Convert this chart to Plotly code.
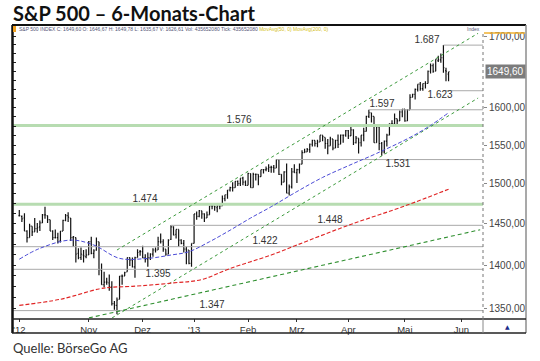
import numpy as np
import pandas as pd
import plotly.graph_objects as go

# ---------------- data ----------------
holidays = ["2012-10-29", "2012-10-30", "2012-11-22", "2012-12-25", "2013-01-01",
            "2013-01-21", "2013-02-18", "2013-03-29", "2013-05-27"]
trade_days = pd.bdate_range("2012-09-21", "2013-06-03", freq="C", holidays=holidays)

opens = [1460, 1459, 1457, 1441, 1433, 1447,
         1440, 1444, 1446, 1451, 1461, 1460, 1455, 1441, 1433, 1433, 1429, 1441, 1454, 1460, 1457,
         1433, 1433, 1414, 1409, 1412, 1410,
         1412, 1428, 1414, 1418, 1428, 1394, 1377, 1380, 1379, 1374, 1355, 1353,
         1360, 1387, 1387, 1392, 1409, 1406, 1398, 1409, 1416,
         1416, 1409, 1407, 1409, 1413, 1418, 1418, 1428, 1428, 1419, 1413, 1431, 1446, 1437, 1443,
         1430, 1426, 1419, 1418, 1402,
         1426, 1462, 1459, 1466, 1462, 1457, 1461, 1472, 1472, 1470, 1472, 1472, 1481,
         1486, 1492, 1495, 1495, 1503, 1500, 1507, 1502,
         1498, 1513, 1495, 1512, 1512, 1509, 1518, 1518, 1519, 1521, 1521, 1520, 1531, 1512, 1502,
         1515, 1488, 1496, 1515,
         1514, 1518, 1525, 1540, 1541, 1544, 1551, 1556, 1552, 1554, 1563, 1560, 1552, 1549, 1558,
         1546, 1556, 1551, 1563, 1563,
         1569, 1562, 1570, 1553, 1559, 1553, 1563, 1568, 1588, 1593, 1588, 1553, 1574, 1552, 1541,
         1555, 1563, 1578, 1578, 1585, 1582, 1594,
         1598, 1582, 1597, 1614, 1618, 1625, 1632, 1626, 1633, 1633, 1650, 1658, 1650, 1665, 1666,
         1669, 1651, 1646]
highs = [1467, 1460, 1463, 1442, 1450, 1447,
         1457, 1451, 1454, 1462, 1471, 1460, 1455, 1442, 1443, 1439, 1441, 1455, 1462, 1464, 1457,
         1435, 1433, 1420, 1421, 1418, 1419,
         1429, 1434, 1419, 1433, 1428, 1402, 1392, 1385, 1389, 1381, 1358, 1362,
         1387, 1389, 1392, 1409, 1409, 1409, 1410, 1419, 1418,
         1423, 1413, 1415, 1414, 1420, 1421, 1434, 1438, 1431, 1419, 1431, 1448, 1447, 1443, 1443,
         1431, 1430, 1422, 1418, 1426,
         1462, 1465, 1467, 1466, 1463, 1465, 1472, 1473, 1472, 1473, 1473, 1485, 1486,
         1492, 1496, 1502, 1503, 1504, 1507, 1509, 1504,
         1514, 1513, 1514, 1513, 1512, 1518, 1518, 1522, 1525, 1523, 1524, 1531, 1531, 1512, 1516,
         1526, 1499, 1520, 1525,
         1519, 1526, 1543, 1545, 1546, 1552, 1557, 1556, 1557, 1563, 1563, 1560, 1558, 1561, 1558,
         1557, 1564, 1564, 1564, 1570,
         1570, 1574, 1571, 1562, 1559, 1563, 1573, 1589, 1597, 1593, 1588, 1575, 1574, 1554, 1556,
         1565, 1579, 1583, 1592, 1585, 1596, 1598,
         1598, 1598, 1618, 1619, 1626, 1632, 1635, 1633, 1636, 1651, 1661, 1661, 1667, 1672, 1675,
         1687, 1655, 1649]
lows = [1459, 1452, 1441, 1427, 1433, 1435,
        1440, 1439, 1441, 1451, 1456, 1451, 1441, 1430, 1432, 1426, 1427, 1441, 1453, 1452, 1429,
        1422, 1403, 1407, 1406, 1403, 1408,
        1412, 1413, 1408, 1417, 1388, 1377, 1374, 1377, 1370, 1353, 1348, 1343,
        1360, 1377, 1387, 1392, 1399, 1397, 1385, 1409, 1411,
        1408, 1403, 1398, 1406, 1410, 1415, 1418, 1426, 1416, 1411, 1413, 1430, 1436, 1432, 1422,
        1425, 1415, 1401, 1401, 1398,
        1426, 1455, 1458, 1456, 1452, 1457, 1461, 1468, 1466, 1464, 1468, 1472, 1478,
        1481, 1490, 1490, 1495, 1497, 1497, 1498, 1497,
        1498, 1495, 1495, 1504, 1498, 1509, 1513, 1516, 1515, 1514, 1514, 1520, 1511, 1498, 1502,
        1488, 1485, 1494, 1514,
        1501, 1513, 1525, 1540, 1541, 1540, 1548, 1548, 1547, 1554, 1555, 1545, 1538, 1549, 1543,
        1546, 1546, 1551, 1553, 1561,
        1558, 1562, 1550, 1552, 1539, 1548, 1555, 1568, 1586, 1580, 1553, 1553, 1543, 1536, 1539,
        1548, 1563, 1575, 1578, 1578, 1582, 1587,
        1581, 1582, 1597, 1614, 1611, 1622, 1623, 1623, 1626, 1633, 1647, 1648, 1650, 1663, 1662,
        1648, 1636, 1636]
closes = [1460, 1456, 1441, 1433, 1447, 1440,
          1444, 1445, 1451, 1461, 1461, 1455, 1441, 1433, 1433, 1428, 1441, 1454, 1460, 1458, 1433,
          1434, 1413, 1409, 1413, 1411, 1412,
          1428, 1414, 1417, 1428, 1395, 1377, 1380, 1380, 1374, 1355, 1353, 1359,
          1387, 1387, 1391, 1409, 1406, 1398, 1409, 1415, 1416,
          1409, 1407, 1409, 1413, 1418, 1418, 1428, 1428, 1419, 1413, 1430, 1446, 1436, 1443, 1430,
          1426, 1419, 1418, 1402, 1426,
          1462, 1459, 1466, 1462, 1457, 1461, 1472, 1472, 1471, 1472, 1472, 1481, 1486,
          1492, 1495, 1495, 1503, 1500, 1507, 1502, 1498,
          1513, 1495, 1512, 1512, 1509, 1518, 1518, 1519, 1521, 1521, 1520, 1531, 1512, 1502, 1515,
          1488, 1496, 1515, 1514,
          1518, 1525, 1540, 1541, 1544, 1551, 1556, 1552, 1554, 1563, 1561, 1552, 1549, 1558, 1546,
          1556, 1551, 1563, 1563, 1569,
          1562, 1570, 1553, 1559, 1553, 1563, 1568, 1588, 1593, 1588, 1553, 1574, 1552, 1541, 1555,
          1563, 1578, 1578, 1585, 1582, 1594, 1598,
          1582, 1597, 1614, 1618, 1625, 1632, 1626, 1633, 1633, 1650, 1658, 1650, 1667, 1666, 1669,
          1655, 1650, 1649.6]

# moving averages (bar index, value)
ma50_idx = [0, 8, 20, 29, 39, 50, 59, 66, 74, 82, 90, 98, 108, 118, 128, 139, 152, 160, 167]
ma50_val = [1407, 1420, 1430, 1424, 1408, 1408, 1412, 1416, 1428, 1442, 1457, 1471, 1490, 1508,
            1523, 1539, 1560, 1576, 1593]
ma200_idx = [0, 16, 31, 36, 44, 60, 71, 82, 98, 108, 128, 150, 167]
ma200_val = [1353, 1360, 1372, 1374, 1375, 1379, 1383, 1396, 1412, 1424, 1448, 1472, 1493]

# horizontal levels
level_vals = [1347, 1395, 1422, 1448, 1474, 1531, 1576, 1597, 1623, 1687]
level_start = [None, None, None, "2012-12-18", None, "2013-02-19", None, "2013-04-11",
               "2013-05-22", "2013-05-22"]
level_kind = ["grey", "grey", "grey", "grey", "green", "grey", "green", "grey", "grey", "grey"]
label_idx = [75.0, 54.0, 95.6, 120.9, 48.9, 147.3, 85.5, 141.1, 163.7, 158.6]
label_side = ["top", "bottom", "top", "top", "top", "bottom", "top", "top", "bottom", "top"]

# trend lines: (start idx, start value, end idx, end value)
trend_upper = [38.0, 1418, 178.5, 1704]
trend_lower = [36.1, 1338.7, 178.5, 1613]
trend_long = [27.1, 1338.7, 179.3, 1442.6]

y_ticks = [1350, 1400, 1450, 1500, 1550, 1600, 1700]
x_tick_labels = ["'12", "Nov", "Dez", "'13", "Feb", "Mrz", "Apr", "Mai", "Jun"]
x_tick_dates = [None, "2012-11-01", "2012-12-03", "2013-01-02", "2013-02-01", "2013-03-01",
                "2013-04-01", "2013-05-01", "2013-06-03"]
last_price = 1649.60

# ---------------- derived ----------------
n = len(closes)
idx = np.arange(n)
pos = {d: i for i, d in enumerate(trade_days.strftime("%Y-%m-%d"))}
x_tick_vals = [0 if d is None else pos[d] for d in x_tick_dates]

X_RANGE = [-2.45, 180.4]
Y_RANGE = [np.log10(1338.6), np.log10(1704.4)]

def de_num(v, dec=0):
    s = f"{v:,.{dec}f}"
    return s.replace(",", "X").replace(".", ",").replace("X", ".")

fig = go.Figure()

# level lines
for v, st, kind in zip(level_vals, level_start, level_kind):
    x0 = X_RANGE[0] if st is None else pos[st]
    if kind == "green":
        fig.add_trace(go.Scatter(x=[x0, X_RANGE[1]], y=[v, v], mode="lines",
                                 line=dict(color="#b7dcb1", width=3), hoverinfo="skip"))
    else:
        fig.add_trace(go.Scatter(x=[x0, X_RANGE[1]], y=[v, v], mode="lines",
                                 line=dict(color="#a9a9a9", width=1), hoverinfo="skip"))

# trend lines
for tl, dash, w, col in [(trend_upper, "dot", 1, "#3c9a3c"),
                         (trend_lower, "dot", 1, "#3c9a3c"),
                         (trend_long, "4px,3px", 1.1, "#2f8f2f")]:
    fig.add_trace(go.Scatter(x=[tl[0], tl[2]], y=[tl[1], tl[3]], mode="lines",
                             line=dict(color=col, width=w, dash=dash), hoverinfo="skip"))

# moving averages
fig.add_trace(go.Scatter(x=ma200_idx, y=ma200_val, mode="lines", line_shape="spline",
                         line=dict(color="#e02424", width=1.1, dash="4px,2px"), hoverinfo="skip"))
fig.add_trace(go.Scatter(x=ma50_idx, y=ma50_val, mode="lines", line_shape="spline",
                         line=dict(color="#4b4bd6", width=1, dash="4px,2px"), hoverinfo="skip"))

# price bars
fig.add_trace(go.Ohlc(x=idx, open=opens, high=highs, low=lows, close=closes,
                      increasing_line_color="#111111", decreasing_line_color="#111111",
                      line_width=1.2, tickwidth=0.35, hoverinfo="skip"))

# level labels
for v, lx, side in zip(level_vals, label_idx, label_side):
    fig.add_trace(go.Scatter(x=[lx], y=[v], mode="text", text=[de_num(v)],
                             textposition=side + " center",
                             textfont=dict(family="Liberation Sans, Arial", size=10, color="#333333"),
                             hoverinfo="skip"))

# invisible trace for left tick axis
fig.add_trace(go.Scatter(x=[0], y=[1500], yaxis="y2", mode="markers",
                         marker=dict(opacity=0), hoverinfo="skip"))

# ---------------- layout ----------------
L, R, T, B = 13, 57, 33, 43
PW, PH = 540 - L - R, 361 - T - B

def xp(px):
    return (px - L) / PW

def yp(py):
    return (361 - B - py) / PH

shapes = [
    dict(type="line", xref="paper", yref="paper", x0=xp(12), x1=xp(526), y0=yp(25), y1=yp(25),
         line=dict(color="#111111", width=2)),
    dict(type="line", xref="paper", yref="paper", x0=xp(12.5), x1=xp(12.5), y0=yp(25), y1=yp(333),
         line=dict(color="#111111", width=2.5)),
    dict(type="line", xref="paper", yref="paper", x0=xp(526), x1=xp(526), y0=yp(25), y1=yp(333),
         line=dict(color="#8c8c8c", width=1.5)),
    dict(type="line", xref="paper", yref="paper", x0=xp(12), x1=xp(526), y0=yp(333), y1=yp(333),
         line=dict(color="#222222", width=1.5)),
    dict(type="line", xref="paper", yref="paper", x0=xp(12), x1=xp(526), y0=yp(319), y1=yp(319),
         line=dict(color="#222222", width=1.5)),
    dict(type="line", xref="paper", yref="paper", x0=xp(483), x1=xp(483), y0=yp(319), y1=yp(333),
         line=dict(color="#888888", width=1)),
    dict(type="line", xref="paper", yref="paper", x0=xp(483), x1=xp(483), y0=yp(34), y1=yp(319),
         line=dict(color="#777777", width=1, dash="dot")),
    dict(type="line", xref="paper", yref="paper", x0=xp(484), x1=xp(525), y0=yp(33), y1=yp(33),
         line=dict(color="#f0b030", width=1.5)),
    dict(type="rect", xref="paper", yref="paper", x0=xp(13), x1=xp(16), y0=yp(32), y1=yp(26),
         fillcolor="#f0a020", line=dict(width=0)),
]

annotations = [
    dict(xref="paper", yref="paper", x=xp(11), y=yp(12.5), xanchor="left", yanchor="middle",
         text="<b>S&P 500 – 6-Monats-Chart</b>", showarrow=False,
         font=dict(family="Lato", size=20, color="#111111")),
    dict(xref="paper", yref="paper", x=xp(11), y=yp(348), xanchor="left", yanchor="middle",
         text="Quelle: BörseGo AG", showarrow=False,
         font=dict(family="Lato", size=13, color="#333333")),
    dict(xref="paper", yref="paper", x=xp(17), y=yp(29.5), xanchor="left", yanchor="middle",
         text="S&P 500 INDEX C: 1649,60 O: 1646,67 H: 1649,78 L: 1635,67 V: 1626,61 "
              "Vol: 435652080 Tick: 435652080 <span style='color:#d4c020'>MovAvg(50, 0) MovAvg(200, 0)</span>",
         showarrow=False, font=dict(family="Liberation Sans, Arial", size=5, color="#555577")),
    dict(xref="paper", yref="paper", x=xp(482), y=yp(29.5), xanchor="right", yanchor="middle",
         text="Index", showarrow=False, font=dict(family="Liberation Sans, Arial", size=5, color="#555577")),
    dict(xref="paper", yref="y", x=1, xshift=2, y=np.log10(last_price), xanchor="left", yanchor="middle",
         text=de_num(last_price, 2).replace(".", ""), showarrow=False, bgcolor="#7c7c7c", borderpad=1,
         font=dict(family="Liberation Sans, Arial", size=10, color="#ffffff")),
    dict(xref="paper", yref="paper", x=xp(507), y=yp(326), xanchor="center", yanchor="middle",
         text="▲", showarrow=False, font=dict(family="DejaVu Sans", size=6, color="#1a2a8a")),
]

fig.update_layout(
    width=540, height=361, autosize=False,
    margin=dict(l=L, r=R, t=T, b=B, pad=0),
    paper_bgcolor="white", plot_bgcolor="white",
    showlegend=False,
    shapes=shapes, annotations=annotations,
    xaxis=dict(range=X_RANGE, showgrid=False, zeroline=False, rangeslider=dict(visible=False),
               tickvals=x_tick_vals, ticktext=x_tick_labels, ticks="outside", ticklen=3,
               tickcolor="#333333", showline=False,
               tickfont=dict(family="Liberation Sans, Arial", size=9.5, color="#333333")),
    yaxis=dict(type="log", range=Y_RANGE, side="right", showgrid=False, zeroline=False,
               tickvals=y_ticks, ticktext=[de_num(v, 2).replace(".", "") for v in y_ticks],
               ticks="outside", ticklen=3, tickcolor="#888888", showline=False,
               tickfont=dict(family="Liberation Sans, Arial", size=10, color="#444444")),
    yaxis2=dict(type="log", range=Y_RANGE, overlaying="y", side="left", showgrid=False,
                zeroline=False, showticklabels=False, ticks="inside", ticklen=3, tickcolor="#222222",
                tickvals=list(np.arange(1337.5, 1705, 12.5))),
)

fig.write_html("out.html", config={"displayModeBar": False},
               post_script="document.body.style.margin='0';document.body.style.overflow='hidden';")
